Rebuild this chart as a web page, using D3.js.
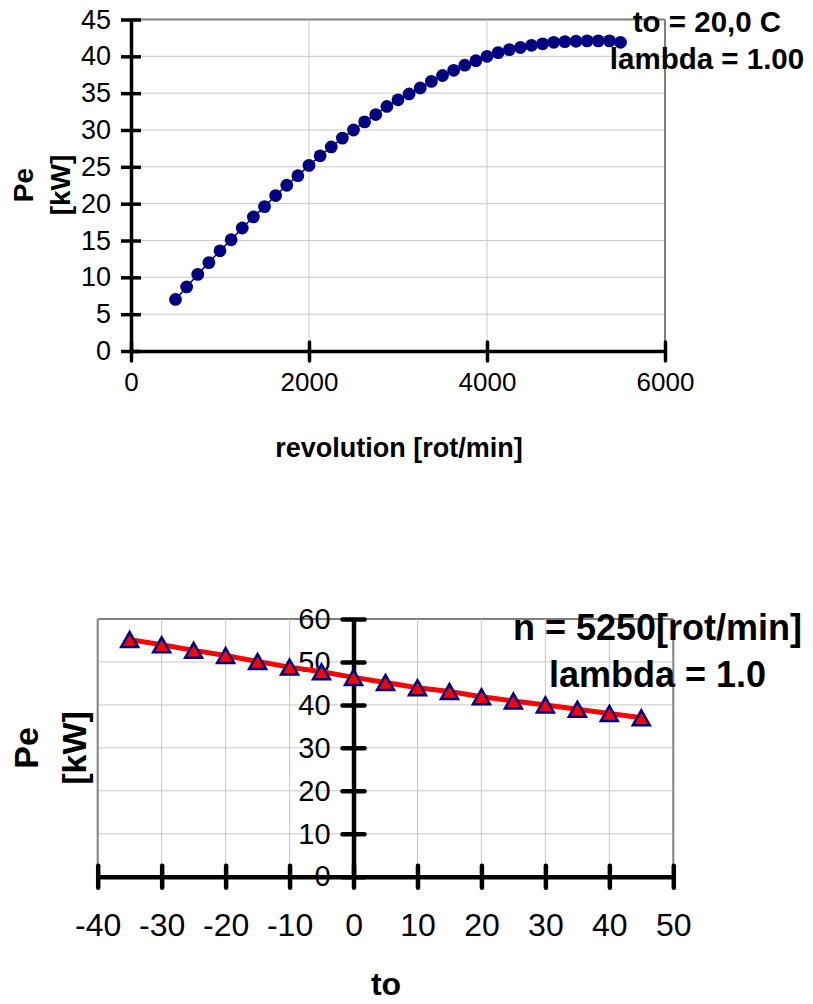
<!DOCTYPE html>
<html><head><meta charset="utf-8">
<script src="https://cdn.jsdelivr.net/npm/d3@7"></script>
<style>html,body{margin:0;padding:0;background:#fff}svg{display:block}</style>
</head><body>
<script>
// ---- Data: top chart (Pe vs revolution) ----
const revolutions = [500,625,750,875,1000,1125,1250,1375,1500,1625,1750,1875,2000,2125,2250,2375,2500,2625,2750,2875,3000,3125,3250,3375,3500,3625,3750,3875,4000,4125,4250,4375,4500,4625,4750,4875,5000,5125,5250,5375,5500];
const peRev = [7.0,8.7,10.4,12.0,13.6,15.1,16.7,18.2,19.6,21.1,22.5,23.8,25.2,26.5,27.7,28.9,30.0,31.1,32.1,33.2,34.1,34.9,35.7,36.6,37.4,38.1,38.8,39.4,40.0,40.5,40.9,41.2,41.5,41.7,41.9,42.0,42.05,42.1,42.1,42.1,41.9];
const topXTicks = [0,2000,4000,6000];
const topYTicks = [0,5,10,15,20,25,30,35,40,45];
const topLabels = ["to = 20,0 C","lambda = 1.00"];

// ---- Data: bottom chart (Pe vs to) ----
const temps = [-35,-30,-25,-20,-15,-10,-5,0,5,10,15,20,25,30,35,40,45];
const peTemp = [55.2,54.0,52.7,51.5,50.1,48.8,47.7,46.4,45.2,44.0,43.1,41.9,40.9,40.0,39.0,38.0,37.0];
const botXTicks = [-40,-30,-20,-10,0,10,20,30,40,50];
const botYTicks = [0,10,20,30,40,50,60];
const botLabels = ["n = 5250[rot/min]","lambda = 1.0"];

const W = 813, H = 1004;
const FONT = "'Liberation Sans', Arial, Helvetica, sans-serif";
const fmt = d => String(d);
const svg = d3.select("body").append("svg").attr("width", W).attr("height", H)
  .style("font-family", FONT);

// ================= TOP CHART =================
{
  const x = d3.scaleLinear().domain([0,6000]).range([131,665]);
  const y = d3.scaleLinear().domain([0,45]).range([351,19.5]);
  const g = svg.append("g");
  g.selectAll(".hg").data(topYTicks.filter(d=>d>0)).join("line")
    .attr("x1", x(0)).attr("x2", x(6000)).attr("y1", d=>y(d)).attr("y2", d=>y(d))
    .attr("stroke", d=>d===45?"#808080":"#c8c8c8").attr("stroke-width", d=>d===45?2:1);
  g.selectAll(".vg").data(topXTicks.filter(d=>d>0)).join("line")
    .attr("x1", d=>x(d)).attr("x2", d=>x(d)).attr("y1", y(45)).attr("y2", y(0))
    .attr("stroke", d=>d===6000?"#808080":"#c8c8c8").attr("stroke-width", d=>d===6000?2:1);
  const ax = g.append("g").attr("transform", `translate(0,${y(0)})`)
    .call(d3.axisBottom(x).tickValues(topXTicks).tickSize(0).tickPadding(0).tickFormat(fmt));
  ax.select(".domain").attr("stroke","#000").attr("stroke-width",3.5);
  ax.selectAll(".tick text").attr("font-size",26).attr("fill","#000").attr("y",22).attr("dy","0.71em").attr("font-family",FONT);
  ax.selectAll(".tick").append("line").attr("y1",-9).attr("y2",10).attr("stroke","#000").attr("stroke-width",3.5).attr("stroke-linecap","round");
  const ay = g.append("g").attr("transform", `translate(${x(0)},0)`)
    .call(d3.axisLeft(y).tickValues(topYTicks).tickSize(0).tickPadding(0).tickFormat(fmt));
  ay.select(".domain").attr("stroke","#000").attr("stroke-width",3.5);
  ay.selectAll(".tick text").attr("font-size",27).attr("fill","#000").attr("x",-20).attr("font-family",FONT);
  ay.selectAll(".tick").append("line").attr("x1",-10).attr("x2",10).attr("stroke","#000").attr("stroke-width",3.5);
  const pts = revolutions.map((r,i)=>[r,peRev[i]]);
  g.append("path").datum(pts).attr("fill","none").attr("stroke","#000080").attr("stroke-width",1.5)
    .attr("d", d3.line().x(d=>x(d[0])).y(d=>y(d[1])));
  g.selectAll(".pt").data(pts).join("circle")
    .attr("cx", d=>x(d[0])).attr("cy", d=>y(d[1])).attr("r",6.4).attr("fill","#000080");
  g.append("text").attr("x",399).attr("y",457).attr("text-anchor","middle")
    .attr("font-size",27).attr("font-weight","bold").text("revolution [rot/min]");
  const yt = g.append("text").attr("transform",`translate(0,185) rotate(-90)`)
    .attr("text-anchor","middle").attr("font-size",28).attr("font-weight","bold");
  yt.append("tspan").attr("x",0).attr("y",33).text("Pe");
  yt.append("tspan").attr("x",0).attr("y",70).text("[kW]");
  g.selectAll(".ann").data(topLabels).join("text")
    .attr("x",707).attr("y",(d,i)=>32+i*37).attr("text-anchor","middle")
    .attr("font-size",29.5).attr("font-weight","bold").text(d=>d);
}

// ================= BOTTOM CHART =================
{
  const x = d3.scaleLinear().domain([-40,50]).range([97.7,673.3]);
  const y = d3.scaleLinear().domain([0,60]).range([876.7,619]);
  const g = svg.append("g");
  g.selectAll(".hg").data(botYTicks.filter(d=>d>0)).join("line")
    .attr("x1", x(-40)).attr("x2", x(50)).attr("y1", d=>y(d)).attr("y2", d=>y(d))
    .attr("stroke", d=>d===60?"#808080":"#c8c8c8").attr("stroke-width", d=>d===60?2:1);
  g.selectAll(".vg").data(botXTicks.filter(d=>d!==0)).join("line")
    .attr("x1", d=>x(d)).attr("x2", d=>x(d)).attr("y1", y(60)).attr("y2", y(0))
    .attr("stroke", d=>(d===-40||d===50)?"#808080":"#c8c8c8").attr("stroke-width", d=>(d===-40||d===50)?2:1);
  const ax = g.append("g").attr("transform", `translate(0,${y(0)})`)
    .call(d3.axisBottom(x).tickValues(botXTicks).tickSize(0).tickPadding(0).tickFormat(fmt));
  ax.select(".domain").attr("stroke","#000").attr("stroke-width",4.5);
  ax.selectAll(".tick text").attr("font-size",32).attr("fill","#000").attr("y",37).attr("dy","0.71em").attr("font-family",FONT);
  ax.selectAll(".tick").append("line").attr("y1",-11).attr("y2",11).attr("stroke","#000").attr("stroke-width",4.5).attr("stroke-linecap","round");
  const ay = g.append("g").attr("transform", `translate(${x(0)},0)`)
    .call(d3.axisLeft(y).tickValues(botYTicks).tickSize(0).tickPadding(0).tickFormat(fmt));
  ay.select(".domain").attr("stroke","#000").attr("stroke-width",4.5);
  ay.selectAll(".tick text").attr("font-size",29).attr("fill","#000").attr("x",-23).attr("font-family",FONT);
  ay.selectAll(".tick").append("line").attr("x1",-11).attr("x2",11).attr("stroke","#000").attr("stroke-width",4.5).attr("stroke-linecap","round");
  const pts = temps.map((t,i)=>[t,peTemp[i]]);
  g.append("path").datum(pts).attr("fill","none").attr("stroke","#ff0000").attr("stroke-width",5)
    .attr("d", d3.line().x(d=>x(d[0])).y(d=>y(d[1])));
  const tri = "M0,-7.5L8.5,7.5L-8.5,7.5Z";
  g.selectAll(".tri").data(pts).join("path")
    .attr("transform", d=>`translate(${x(d[0])},${y(d[1])})`)
    .attr("d", tri).attr("fill","#ff0000").attr("stroke","#000080").attr("stroke-width",2.5).attr("stroke-linejoin","miter");
  g.append("text").attr("x",386).attr("y",995).attr("text-anchor","middle")
    .attr("font-size",32).attr("font-weight","bold").text("to");
  const yt = g.append("text").attr("transform",`translate(0,748) rotate(-90)`)
    .attr("text-anchor","middle").attr("font-size",34).attr("font-weight","bold");
  yt.append("tspan").attr("x",0).attr("y",38).text("Pe");
  yt.append("tspan").attr("x",0).attr("y",86).text("[kW]");
  g.selectAll(".ann").data(botLabels).join("text")
    .attr("x",657.5).attr("y",(d,i)=>640+i*47).attr("text-anchor","middle")
    .attr("font-size",36).attr("font-weight","bold").text(d=>d);
}
</script>
</body></html>
